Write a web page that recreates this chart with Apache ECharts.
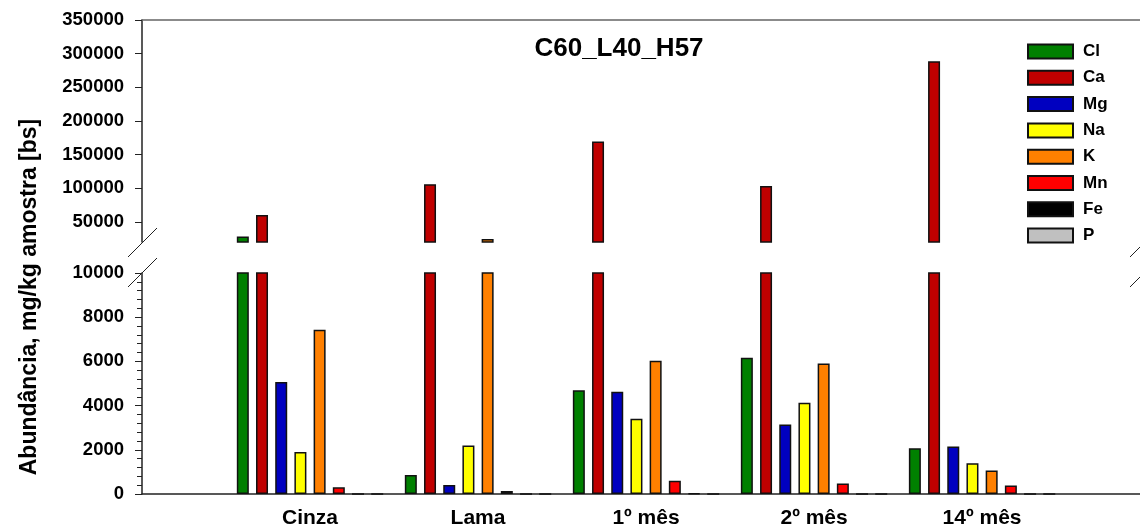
<!DOCTYPE html>
<html>
<head>
<meta charset="utf-8">
<script src="https://cdn.jsdelivr.net/npm/echarts@6/dist/echarts.min.js"></script>
<style>
	html, body { margin: 0; padding: 0; background: #fff; }
	#main { width: 1140px; height: 526px; }
</style>
</head>
<body>
<div id="main"></div>
<script>
// sample names and element abundances (mg/kg)
const categories = ["Cinza", "Lama", "1º mês", "2º mês", "14º mês"];
const elements = ["Cl", "Ca", "Mg", "Na", "K", "Mn", "Fe", "P"];
const cl = [28200, 860, 4690, 6170, 2070];
const ca = [60000, 106000, 169500, 103300, 288800];
const mg = [5070, 410, 4630, 3150, 2150];
const na = [1900, 2200, 3410, 4130, 1390];
const k = [7430, 24500, 6030, 5900, 1060];
const mn = [300, 140, 600, 470, 380];
const fe = [0, 0, 30, 0, 0];
const p = [0, 0, 0, 0, 0];
const colors = ["#008000", "#C00000", "#0000C0", "#FFFF00", "#FF8000", "#FF0000", "#000000", "#C0C0C0"];

const upperTicks = [50000, 100000, 150000, 200000, 250000, 300000, 350000];
const upperMinor = [30000, 40000, 60000, 70000, 80000, 90000, 110000, 120000, 130000, 140000,
	160000, 170000, 180000, 190000, 210000, 220000, 230000, 240000, 260000, 270000, 280000,
	290000, 310000, 320000, 330000, 340000];

const values = [cl, ca, mg, na, k, mn, fe, p];
const font = "Liberation Sans";
const plain = function (v) { return String(v); };

let myCharts = echarts.init(document.getElementById("main"), null, { renderer: "canvas" });

let series = [];
[0, 1].forEach(function (g) {
	elements.forEach(function (name, i) {
		series.push({
			name: name,
			type: "bar",
			xAxisIndex: g,
			yAxisIndex: g === 0 ? 0 : 2,
			barWidth: 12,
			barGap: "60%",
			clip: true,
			itemStyle: { color: colors[i], borderColor: "#111", borderWidth: 1.5 },
			emphasis: { disabled: true },
			data: values[i].map(function (v, j) { return [j + 1, v]; }),
		});
	});
});

let option = {
	animation: false,
	textStyle: { fontFamily: font },
	grid: [
		{ left: 142, right: 0, top: 20, height: 222, outerBoundsMode: "none" },
		{ left: 142, right: 0, top: 273, height: 221, outerBoundsMode: "none" },
	],
	legend: {
		orient: "vertical",
		left: 1027,
		top: 43,
		padding: 0,
		itemWidth: 45,
		itemHeight: 14,
		itemGap: 9.3,
		icon: "rect",
		selectedMode: false,
		textStyle: { fontFamily: font, fontWeight: "bold", fontSize: 17, color: "#000", padding: [0, 0, 0, 5] },
		data: elements,
	},
	xAxis: [
		{
			gridIndex: 0, type: "value", position: "top", min: 0, max: 5.94, interval: 1,
			axisLine: { show: true, lineStyle: { color: "#666", width: 1.5 } },
			axisTick: { show: false }, axisLabel: { show: false }, splitLine: { show: false },
		},
		{
			gridIndex: 1, type: "value", position: "bottom", min: 0, max: 5.94, interval: 1,
			axisLine: { show: true, onZero: false, lineStyle: { color: "#222", width: 1.5 } },
			axisTick: { show: false }, splitLine: { show: false },
			axisLabel: {
				margin: 14, fontSize: 21, fontWeight: "bold", color: "#000", fontFamily: font,
				showMaxLabel: false,
				formatter: function (v) { return Number.isInteger(v) && categories[v - 1] ? categories[v - 1] : ""; },
			},
		},
	],
	yAxis: [
		{
			gridIndex: 0, type: "value", min: 20000, max: 350000,
			axisLine: { show: true, lineStyle: { color: "#222", width: 1.5 } },
			axisTick: { show: true, length: 7, customValues: upperTicks, lineStyle: { color: "#222" } },
			axisLabel: { customValues: upperTicks, formatter: plain, margin: 18, fontSize: 18.5, fontWeight: "bold", color: "#000", fontFamily: font },
			splitLine: { show: false },
		},
		{
			gridIndex: 0, type: "value", min: 20000, max: 350000,
			axisLine: { show: false },
			axisTick: { show: true, length: 5, customValues: upperMinor, lineStyle: { color: "#222" } },
			axisLabel: { show: false },
			splitLine: { show: false },
		},
		{
			gridIndex: 1, type: "value", min: 0, max: 10000, interval: 2000,
			axisLine: { show: true, lineStyle: { color: "#222", width: 1.5 } },
			axisTick: { show: true, length: 7, lineStyle: { color: "#222" } },
			minorTick: { show: true, splitNumber: 5, length: 5, lineStyle: { color: "#222" } },
			axisLabel: { formatter: plain, margin: 18, fontSize: 18.5, fontWeight: "bold", color: "#000", fontFamily: font },
			splitLine: { show: false },
		},
	],
	graphic: [
		{
			type: "text", x: 619, y: 49,
			style: { text: "C60_L40_H57", fontFamily: font, fontWeight: "bold", fontSize: 26, fill: "#000", textAlign: "center", textVerticalAlign: "middle" },
		},
		{
			type: "text", x: 30, y: 297, rotation: Math.PI / 2,
			style: { text: "Abundância, mg/kg amostra [bs]", fontFamily: font, fontWeight: "bold", fontSize: 23, fill: "#000", textAlign: "center", textVerticalAlign: "middle" },
		},
		{ type: "line", shape: { x1: 128, y1: 257, x2: 157, y2: 228 }, style: { stroke: "#222", lineWidth: 1 } },
		{ type: "line", shape: { x1: 128, y1: 287, x2: 157, y2: 258 }, style: { stroke: "#222", lineWidth: 1 } },
		{ type: "line", shape: { x1: 1130, y1: 257, x2: 1141, y2: 246 }, style: { stroke: "#222", lineWidth: 1 } },
		{ type: "line", shape: { x1: 1130, y1: 287, x2: 1141, y2: 276 }, style: { stroke: "#222", lineWidth: 1 } },
	],
	series: series,
};
myCharts.setOption(option);
</script>
</body>
</html>
